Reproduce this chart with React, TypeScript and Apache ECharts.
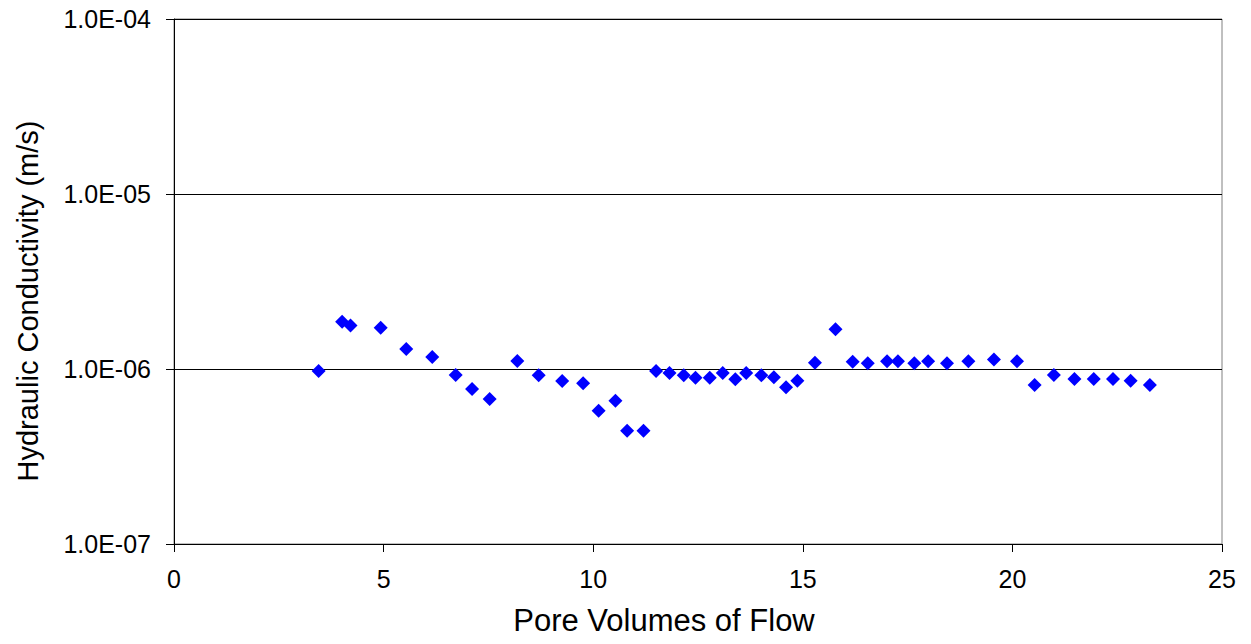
import React, { useEffect, useRef } from "react";
import * as echarts from "echarts";

const poreVolumes = [
  3.45, 4.01, 4.21, 4.93, 5.54, 6.16, 6.72, 7.11, 7.53, 8.19, 8.70, 9.26, 9.76,
  10.13, 10.53, 10.81, 11.20, 11.50, 11.82, 12.16, 12.44, 12.78, 13.09, 13.39,
  13.65, 14.01, 14.31, 14.60, 14.87, 15.29, 15.78, 16.19, 16.55, 17.01, 17.27,
  17.66, 17.99, 18.44, 18.95, 19.56, 20.11, 20.53, 20.99, 21.48, 21.94, 22.40,
  22.82, 23.28,
];

const conductivity = [
  0.974e-6, 1.86e-6, 1.77e-6, 1.72e-6, 1.30e-6, 1.17e-6, 0.924e-6, 0.769e-6,
  0.674e-6, 1.11e-6, 0.920e-6, 0.854e-6, 0.828e-6, 0.578e-6, 0.659e-6,
  0.444e-6, 0.444e-6, 0.975e-6, 0.949e-6, 0.920e-6, 0.892e-6, 0.892e-6,
  0.949e-6, 0.873e-6, 0.949e-6, 0.920e-6, 0.896e-6, 0.786e-6, 0.857e-6,
  1.086e-6, 1.686e-6, 1.10e-6, 1.078e-6, 1.106e-6, 1.106e-6, 1.078e-6,
  1.106e-6, 1.078e-6, 1.106e-6, 1.135e-6, 1.106e-6, 0.810e-6, 0.924e-6,
  0.877e-6, 0.877e-6, 0.877e-6, 0.857e-6, 0.810e-6,
];

const xTitle = "Pore Volumes of Flow";
const yTitle = "Hydraulic Conductivity (m/s)";

function fmtExp(v: number): string {
  const e = Math.round(Math.log10(v));
  const m = v / Math.pow(10, e);
  const sign = e < 0 ? "-" : "+";
  const abs = Math.abs(e);
  return m.toFixed(1) + "E" + sign + (abs < 10 ? "0" + abs : String(abs));
}

export default function App() {
  const ref = useRef<HTMLDivElement>(null);
  useEffect(() => {
    if (!ref.current) return;
    const chart = echarts.init(ref.current, undefined, { renderer: "svg" });
    const font = "'Liberation Sans', Arial, sans-serif";
    chart.setOption({
      animation: false,
      backgroundColor: "#ffffff",
      textStyle: { fontFamily: font, color: "#000" },
      grid: {
        left: 174,
        right: 29,
        top: 19,
        bottom: 100,
        show: true,
        borderColor: "#808080",
        borderWidth: 1,
      },
      graphic: [
        {
          type: "text",
          x: 664,
          y: 620,
          style: {
            text: xTitle,
            font: "31px 'Liberation Sans', Arial, sans-serif",
            fill: "#000",
            align: "center",
            verticalAlign: "middle",
          },
        },
        {
          type: "text",
          x: 28,
          y: 301,
          rotation: Math.PI / 2,
          style: {
            text: yTitle,
            font: "29px 'Liberation Sans', Arial, sans-serif",
            fill: "#000",
            align: "center",
            verticalAlign: "middle",
          },
        },
      ],
      xAxis: {
        type: "value",
        min: 0,
        max: 25,
        interval: 5,
        axisLine: { show: true, onZero: false, lineStyle: { color: "#000", width: 1 } },
        axisTick: { show: true, inside: false, length: 8, lineStyle: { color: "#000" } },
        axisLabel: { fontSize: 25, color: "#000", margin: 22, fontFamily: font },
        splitLine: { show: false },
      },
      yAxis: {
        type: "log",
        logBase: 10,
        min: 1e-7,
        max: 1e-4,
        axisLine: { show: true, lineStyle: { color: "#000", width: 1 } },
        axisTick: { show: true, inside: false, length: 8, lineStyle: { color: "#000" } },
        axisLabel: {
          fontSize: 25,
          color: "#000",
          margin: 23,
          fontFamily: font,
          formatter: (v: number) => fmtExp(v),
        },
        splitLine: {
          show: true,
          lineStyle: { color: ["#000", "#000", "#000", "#808080"], width: 1 },
        },
      },
      series: [
        {
          type: "scatter",
          symbol: "diamond",
          symbolSize: 14,
          itemStyle: { color: "#0000ff", opacity: 1 },
          data: poreVolumes.map((x, i) => [x, conductivity[i]]),
        },
      ],
    });
    return () => chart.dispose();
  }, []);
  return (
    <div
      ref={ref}
      style={{ position: "fixed", left: 0, top: 0, width: 1251, height: 644 }}
    />
  );
}
